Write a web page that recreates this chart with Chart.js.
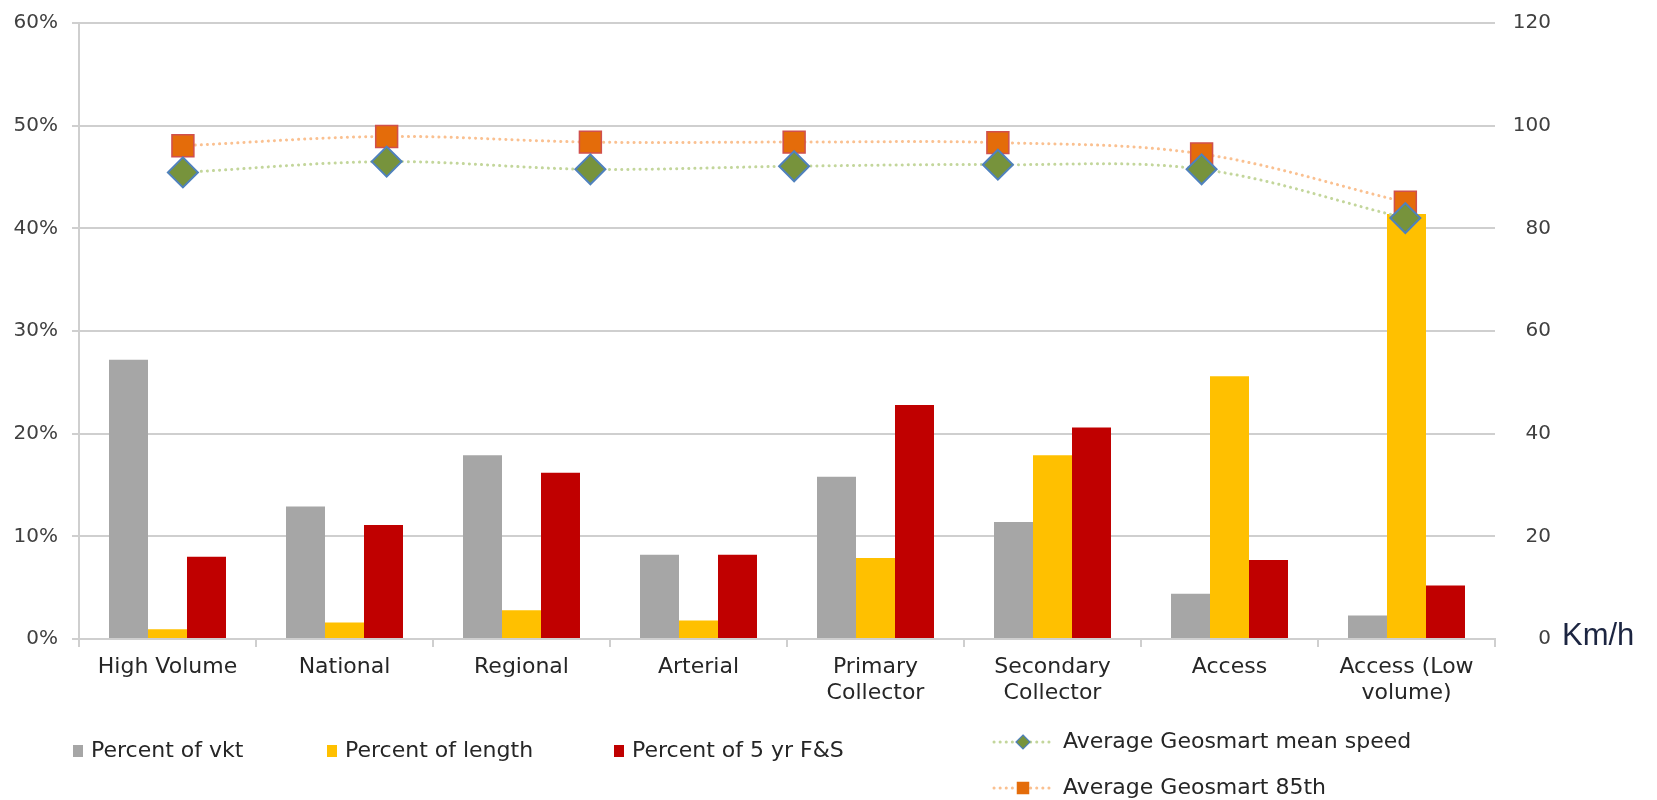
<!DOCTYPE html>
<html>
<head>
<meta charset="utf-8">
<script src="https://cdn.jsdelivr.net/npm/chart.js@4.4.1/dist/chart.umd.min.js"></script>
<style>
  html, body { margin: 0; padding: 0; background: #ffffff; }
  #wrap { position: relative; width: 1657px; height: 800px; }
</style>
</head>
<body>
<div id="wrap"><canvas id="c" width="1657" height="800"></canvas></div>
<script>
// Road categories (x axis of the bars)
const categories = [
  'High Volume', 'National', 'Regional', 'Arterial',
  ['Primary', 'Collector'], ['Secondary', 'Collector'], 'Access', ['Access (Low', 'volume)']
];

// Bar series, percent
const pctVkt    = [27.2, 12.9, 17.9, 8.2, 15.8, 11.4, 4.4, 2.3];
const pctLength = [0.95, 1.6, 2.8, 1.8, 7.9, 17.9, 25.6, 41.4];
const pctFS     = [8.0, 11.1, 16.2, 8.2, 22.8, 20.6, 7.7, 5.2];

// Speed series, km/h (seven points on their own evenly spaced slots)
const meanSpeed = [90.9, 93.0, 91.5, 92.1, 92.4, 91.5, 82.0];
const speed85th = [96.1, 97.9, 96.8, 96.8, 96.7, 94.5, 85.1];

// Axis tick values
const pctTicks = [0, 10, 20, 30, 40, 50, 60];
const speedTicks = [0, 20, 40, 60, 80, 100, 120];

const seriesNames = {
  vkt: 'Percent of vkt',
  length: 'Percent of length',
  fs: 'Percent of 5 yr F&S',
  mean: 'Average Geosmart mean speed',
  p85: 'Average Geosmart 85th'
};
const speedUnit = 'Km/h';

const COLORS = {
  grey: '#A6A6A6', yellow: '#FFC000', red: '#C00000',
  meanLine: '#C3D69B', meanFill: '#77933C', meanEdge: '#4F81BD',
  p85Line: '#FAC090', p85Fill: '#E46C0A', p85Edge: '#D0504D',
  grid: '#CFCFCF', text: '#404040', legendText: '#262626', unit: '#1C2541'
};

const PLOT = { left: 79, right: 1495, top: 23, bottom: 639, labelEdge: 1551 };
const FONT = "'DejaVu Sans', Verdana, sans-serif";
const UNIT_FONT = "'Liberation Sans', Arial, sans-serif";

// Category positions on the shared horizontal value axis
const X_MIN = -0.5, X_MAX = categories.length - 0.5;
// The speed series uses its own run of slots across the same width
const SPEED_SLOTS = { min: -0.51, max: 6.44 };

function barPoints(values) {
  return values.map((v, i) => ({ x: i, y: v }));
}
function speedPoints(values) {
  const span = SPEED_SLOTS.max - SPEED_SLOTS.min;
  return values.map((v, i) => ({
    x: X_MIN + (i - SPEED_SLOTS.min) / span * (X_MAX - X_MIN),
    y: v
  }));
}

function drawMarker(ctx, style, x, y, r, fill, edge, lw) {
  ctx.save();
  ctx.beginPath();
  if (style === 'rectRot') {
    ctx.moveTo(x, y - r); ctx.lineTo(x + r, y); ctx.lineTo(x, y + r); ctx.lineTo(x - r, y);
    ctx.closePath();
  } else {
    const h = r * Math.SQRT1_2;
    ctx.rect(x - h, y - h, 2 * h, 2 * h);
  }
  ctx.fillStyle = fill; ctx.fill();
  ctx.lineWidth = lw; ctx.strokeStyle = edge; ctx.stroke();
  ctx.restore();
}

// Legend in two groups: bar swatches in one row, speed lines stacked on the right
const legendPlugin = {
  id: 'splitLegend',
  afterDraw(chart) {
    const ctx = chart.ctx;
    const ds = chart.data.datasets;
    ctx.save();
    ctx.font = '22px ' + FONT;
    ctx.textBaseline = 'middle';
    ctx.textAlign = 'left';
    const barX = [73, 327, 614];
    const barY = 751;
    ds.filter(d => d.type === 'bar').forEach((d, i) => {
      ctx.fillStyle = d.backgroundColor;
      ctx.fillRect(barX[i], barY - 6, 10, 12);
      ctx.fillStyle = COLORS.legendText;
      ctx.fillText(d.label, barX[i] + 18, barY);
    });
    const lineY = [742, 788];
    ds.filter(d => d.type === 'line').forEach((d, i) => {
      const y = lineY[i];
      ctx.save();
      ctx.strokeStyle = d.borderColor;
      ctx.lineWidth = 3;
      ctx.lineCap = 'round';
      ctx.setLineDash([0.1, 6]);
      ctx.beginPath(); ctx.moveTo(994, y); ctx.lineTo(1054, y); ctx.stroke();
      ctx.restore();
      drawMarker(ctx, d.pointStyle, 1023, y, d.pointStyle === 'rectRot' ? 7 : 8,
                 d.pointBackgroundColor, d.pointStyle === 'rectRot' ? d.pointBorderColor : d.pointBackgroundColor, 1.2);
      ctx.fillStyle = COLORS.legendText;
      ctx.fillText(d.label, 1063, y);
    });
    ctx.restore();
  }
};

// Unit label beside the zero of the speed axis
const unitPlugin = {
  id: 'speedUnit',
  afterDraw(chart) {
    const s = chart.scales.y2;
    const ctx = chart.ctx;
    ctx.save();
    ctx.font = '31px ' + UNIT_FONT;
    ctx.fillStyle = COLORS.unit;
    ctx.textAlign = 'left';
    ctx.textBaseline = 'middle';
    ctx.fillText(speedUnit, 1562, s.getPixelForValue(0) - 3);
    ctx.restore();
  }
};

const barCommon = { type: 'bar', yAxisID: 'y', order: 2, categoryPercentage: 0.661, barPercentage: 1.0 };

new Chart(document.getElementById('c'), {
  data: {
    datasets: [
      Object.assign({ label: seriesNames.vkt, data: barPoints(pctVkt), backgroundColor: COLORS.grey }, barCommon),
      Object.assign({ label: seriesNames.length, data: barPoints(pctLength), backgroundColor: COLORS.yellow }, barCommon),
      Object.assign({ label: seriesNames.fs, data: barPoints(pctFS), backgroundColor: COLORS.red }, barCommon),
      { type: 'line', label: seriesNames.mean, data: speedPoints(meanSpeed),
        yAxisID: 'y2', order: 0,
        borderColor: COLORS.meanLine, borderWidth: 3, borderDash: [0.1, 6], borderCapStyle: 'round',
        tension: 0.35, fill: false,
        pointStyle: 'rectRot', pointRadius: 15, pointHoverRadius: 15,
        pointBackgroundColor: COLORS.meanFill, pointBorderColor: COLORS.meanEdge, pointBorderWidth: 2 },
      { type: 'line', label: seriesNames.p85, data: speedPoints(speed85th),
        yAxisID: 'y2', order: 1,
        borderColor: COLORS.p85Line, borderWidth: 3, borderDash: [0.1, 6], borderCapStyle: 'round',
        tension: 0.35, fill: false,
        pointStyle: 'rect', pointRadius: 15.5, pointHoverRadius: 15.5,
        pointBackgroundColor: COLORS.p85Fill, pointBorderColor: COLORS.p85Edge, pointBorderWidth: 1.5 }
    ]
  },
  options: {
    responsive: false,
    animation: false,
    devicePixelRatio: 1,
    layout: { padding: { top: PLOT.top, left: 0, right: 1657 - PLOT.labelEdge, bottom: 0 } },
    plugins: { legend: { display: false }, tooltip: { enabled: false } },
    scales: {
      x: {
        type: 'linear',
        position: 'bottom',
        offset: false,
        min: X_MIN, max: X_MAX,
        afterFit: s => { s.height = 800 - PLOT.bottom; },
        afterBuildTicks: s => { s.ticks = categories.map((c, i) => ({ value: i })); },
        grid: { display: true, drawOnChartArea: false, drawTicks: true, tickLength: 8,
                color: COLORS.grid, lineWidth: 2, offset: true },
        border: { display: true, color: COLORS.grid, width: 2 },
        ticks: { color: '#262626', font: { family: FONT, size: 22, lineHeight: 1.2 },
                 padding: 7, maxRotation: 0, autoSkip: false,
                 callback: (v, i) => categories[i] }
      },
      y: {
        type: 'linear',
        position: 'left',
        min: 0, max: 60,
        afterFit: s => { s.width = PLOT.left; s.paddingTop = 0; s.paddingBottom = 0; },
        afterBuildTicks: s => { s.ticks = pctTicks.map(v => ({ value: v })); },
        grid: { color: COLORS.grid, lineWidth: 2, drawTicks: true, tickLength: 7 },
        border: { display: true, color: COLORS.grid, width: 2 },
        ticks: { color: COLORS.text, font: { family: FONT, size: 20 }, padding: 14,
                 callback: v => v + '%' }
      },
      y2: {
        type: 'linear',
        position: 'right',
        min: 0, max: 120,
        afterFit: s => { s.width = PLOT.labelEdge - PLOT.right; s.paddingTop = 0; s.paddingBottom = 0; },
        afterBuildTicks: s => { s.ticks = speedTicks.map(v => ({ value: v })); },
        grid: { display: false, drawOnChartArea: false, drawTicks: false },
        border: { display: false },
        ticks: { color: COLORS.text, font: { family: FONT, size: 20 }, padding: 17,
                 crossAlign: 'far' }
      }
    }
  },
  plugins: [legendPlugin, unitPlugin]
});
</script>
</body>
</html>
